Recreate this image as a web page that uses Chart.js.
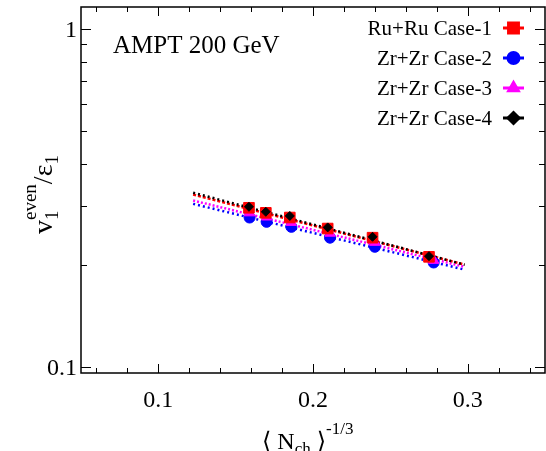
<!DOCTYPE html>
<html>
<head>
<meta charset="utf-8">
<script src="https://cdn.jsdelivr.net/npm/chart.js@4.4.0/dist/chart.umd.min.js"></script>
<style>
  html, body { margin: 0; padding: 0; background: #fff; }
  #wrap { width: 546px; height: 451px; }
</style>
</head>
<body>
<div id="wrap"><canvas id="chart" width="546" height="451"></canvas></div>
<script>
// Datos
const xRu = [0.1586, 0.1695, 0.185, 0.2095, 0.2385, 0.275];
const xZr = [0.159, 0.170, 0.186, 0.211, 0.240, 0.278];
const yCase1 = [0.296, 0.286, 0.277, 0.257, 0.2415, 0.212];
const yCase2 = [0.277, 0.269, 0.260, 0.2415, 0.227, 0.204];
const yCase3 = [0.286, 0.278, 0.268, 0.249, 0.234, 0.207];
const yCase4 = [0.298, 0.288, 0.280, 0.259, 0.243, 0.213];

// Ajustes (extremos de cada recta)
const fitX = [0.1225, 0.298];
const fitCase1 = [0.324, 0.201];
const fitCase2 = [0.304, 0.1943];
const fitCase3 = [0.311, 0.198];
const fitCase4 = [0.328, 0.201];

const labels = ['Ru+Ru Case-1', 'Zr+Zr Case-2', 'Zr+Zr Case-3', 'Zr+Zr Case-4'];
const colors = ['#ff0000', '#0000ff', '#ff00ff', '#000000'];
const styles = ['rect', 'circle', 'triangle', 'rectRot'];

// Ticks
const xMajor = [0.1, 0.2, 0.3];
const xMinor = [0.06, 0.08, 0.12, 0.14, 0.16, 0.18, 0.22, 0.24, 0.26, 0.28, 0.32, 0.34];
const yMajor = [0.1, 1];
const yMinor = [0.2, 0.3, 0.4, 0.5, 0.6, 0.7, 0.8, 0.9];
const xTickLabels = ['0.1', '0.2', '0.3'];
const yTickLabels = ['0.1', '1'];

const SERIF = '"Liberation Serif", "DejaVu Serif", serif';

function pts(xs, ys) {
    return xs.map((x, i) => ({ x: x, y: ys[i] }));
}

function pointSet(i, xs, ys, radius) {
    return {
        label: labels[i],
        data: pts(xs, ys),
        showLine: false,
        pointStyle: styles[i],
        pointRadius: radius,
        backgroundColor: colors[i],
        borderColor: colors[i],
        borderWidth: 1
    };
}

function fitSet(i, ys, dash) {
    return {
        label: labels[i] + ' fit',
        data: pts(fitX, ys),
        showLine: true,
        pointRadius: 0,
        borderColor: colors[i],
        borderWidth: 2.5,
        borderDash: dash
    };
}

// Marco, ticks interiores, textos y leyenda
const decorPlugin = {
    id: 'decor',
    afterDraw(chart) {
        const ctx = chart.ctx;
        const a = chart.chartArea;
        const xs = chart.scales.x;
        const ys = chart.scales.y;
        ctx.save();
        ctx.strokeStyle = '#000';
        ctx.lineWidth = 1.5;
        ctx.strokeRect(a.left, a.top, a.right - a.left, a.bottom - a.top);

        ctx.lineWidth = 1;
        const xt = (v, len) => {
            const p = Math.round(xs.getPixelForValue(v)) + 0.5;
            ctx.beginPath();
            ctx.moveTo(p, a.bottom); ctx.lineTo(p, a.bottom - len);
            ctx.moveTo(p, a.top); ctx.lineTo(p, a.top + len);
            ctx.stroke();
        };
        const yt = (v, len) => {
            const p = Math.round(ys.getPixelForValue(v)) + 0.5;
            ctx.beginPath();
            ctx.moveTo(a.left, p); ctx.lineTo(a.left + len, p);
            ctx.moveTo(a.right, p); ctx.lineTo(a.right - len, p);
            ctx.stroke();
        };
        xMajor.forEach(v => xt(v, 9));
        xMinor.forEach(v => xt(v, 5));
        yMajor.forEach(v => yt(v, 10));
        yMinor.forEach(v => yt(v, 6));

        ctx.fillStyle = '#000';

        // Etiquetas de ticks
        ctx.font = '24px ' + SERIF;
        ctx.textBaseline = 'alphabetic';
        ctx.textAlign = 'center';
        xMajor.forEach((v, i) => ctx.fillText(xTickLabels[i], xs.getPixelForValue(v), 407));
        ctx.textAlign = 'right';
        yMajor.forEach((v, i) => ctx.fillText(yTickLabels[i], 77, ys.getPixelForValue(v) + 8));

        // Etiqueta
        ctx.textAlign = 'left';
        ctx.font = '25px ' + SERIF;
        ctx.fillText('AMPT 200 GeV', 113, 53);

        // Titulo eje X
        let x = 262;
        const base = 449;
        const put = (t, size, dy) => {
            ctx.font = size + 'px ' + SERIF;
            ctx.fillText(t, x, base + dy);
            x += ctx.measureText(t).width;
        };
        put('\u27E8 N', 24, 0);
        put('ch', 17, 5);
        put(' \u27E9', 24, 0);
        put('-1/3', 17, -15);

        // Titulo eje Y
        ctx.save();
        ctx.translate(52, 234);
        ctx.rotate(-Math.PI / 2);
        let t = 0;
        ctx.font = '28px ' + SERIF;
        ctx.fillText('v', t, 0);
        t += ctx.measureText('v').width;
        ctx.font = '19px ' + SERIF;
        ctx.fillText('1', t, 6);
        ctx.fillText('even', t, -16);
        t += ctx.measureText('even').width;
        ctx.font = '28px ' + SERIF;
        ctx.fillText('/', t, 0);
        t += ctx.measureText('/').width;
        ctx.fillText('\u03B5', t, 0);
        t += ctx.measureText('\u03B5').width;
        ctx.font = '19px ' + SERIF;
        ctx.fillText('1', t, 6);
        ctx.restore();

        // Leyenda
        const rows = [28, 58, 88, 118];
        ctx.font = '21px ' + SERIF;
        ctx.textAlign = 'right';
        ctx.textBaseline = 'middle';
        rows.forEach((ry, i) => {
            ctx.fillStyle = '#000';
            ctx.fillText(labels[i], 492, ry + 1);
            ctx.strokeStyle = colors[i];
            ctx.lineWidth = 3;
            ctx.beginPath();
            ctx.moveTo(503, ry); ctx.lineTo(524, ry);
            ctx.stroke();
            ctx.fillStyle = colors[i];
            Chart.helpers.drawPoint(ctx, {
                pointStyle: styles[i],
                radius: i === 0 ? 7 : 5.5,
                rotation: 0,
                borderWidth: 1
            }, 513.5, ry);
            ctx.fill();
        });
        ctx.restore();
    }
};

const ctx = document.getElementById('chart').getContext('2d');
const chart = new Chart(ctx, {
    type: 'scatter',
    data: {
        datasets: [
            pointSet(3, xRu, yCase4, 4.5),
            pointSet(0, xRu, yCase1, 7.5),
            pointSet(2, xZr, yCase3, 6),
            pointSet(1, xZr, yCase2, 5.5),
            fitSet(3, fitCase4, [2, 3]),
            fitSet(0, fitCase1, [3, 2]),
            fitSet(2, fitCase3, [2, 2]),
            fitSet(1, fitCase2, [2, 3])
        ]
    },
    options: {
        responsive: false,
        animation: false,
        layout: { autoPadding: false, padding: { top: 7, right: 1, left: 0, bottom: 0 } },
        plugins: {
            legend: { display: false },
            tooltip: { enabled: false }
        },
        scales: {
            x: {
                type: 'linear',
                min: 0.05,
                max: 0.35,
                grid: { display: false, drawTicks: false },
                border: { display: false },
                ticks: { display: false },
                afterFit: (s) => { s.height = 78; s.paddingLeft = 0; s.paddingRight = 0; }
            },
            y: {
                type: 'logarithmic',
                min: 0.0962,
                max: 1.16,
                grid: { display: false, drawTicks: false },
                border: { display: false },
                ticks: { display: false },
                afterFit: (s) => { s.width = 81; s.paddingTop = 0; s.paddingBottom = 0; }
            }
        }
    },
    plugins: [decorPlugin]
});
</script>
</body>
</html>
